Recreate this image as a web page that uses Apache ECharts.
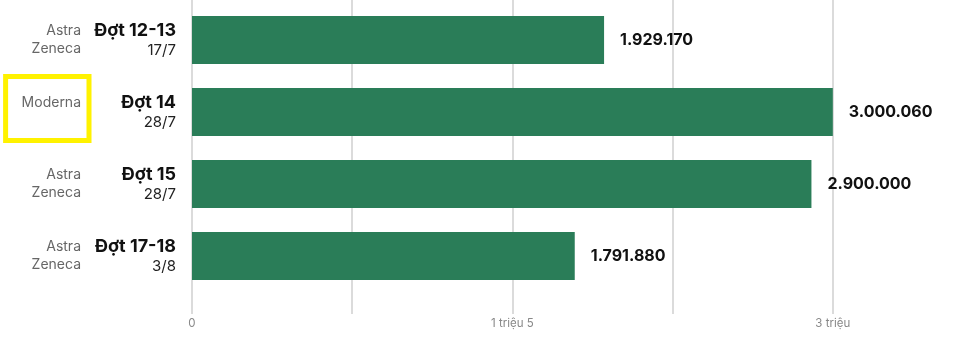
<!DOCTYPE html>
<html><head><meta charset="utf-8">
<script src="https://cdn.jsdelivr.net/npm/echarts@6/dist/echarts.min.js"></script>
<style>html,body{margin:0;padding:0;background:#fff;overflow:hidden;width:958px;height:349px}#c{width:1000px;height:349px}</style>
</head><body><div id="c"></div>
<script>
const batches = ['Đợt 12-13', 'Đợt 14', 'Đợt 15', 'Đợt 17-18'];
const dates = ['17/7', '28/7', '28/7', '3/8'];
const vendors = ['Astra\nZeneca', 'Moderna', 'Astra\nZeneca', 'Astra\nZeneca'];
const highlighted = ['Moderna'];
const doses = [1929170, 3000060, 2900000, 1791880];
const tickValues = [0, 1500000, 3000000];
const tickLabels = ['0', '1 triệu 5', '3 triệu'];

const FONT = 'Inter, "Noto Sans", sans-serif';
const fmt = v => String(v).replace(/\B(?=(\d{3})+(?!\d))/g, '.');
const chart = echarts.init(document.getElementById('c'), null, {renderer: 'canvas'});
const grid = '#cfcfcf';
const xCommon = {
  type: 'value', min: 0, max: 3750000, interval: 750000,
  axisLine: {show: false}
};
chart.setOption({
  animation: false,
  grid: {left: 192, top: 4, width: 801, height: 288, containLabel: false},
  xAxis: [
    Object.assign({}, xCommon, {
      position: 'bottom',
      splitLine: {show: true, lineStyle: {color: grid, width: 1.5}},
      axisTick: {show: true, length: 22, lineStyle: {color: grid, width: 1.5}},
      axisLabel: {
        margin: 26, color: '#888', fontSize: 11.5, fontFamily: FONT,
        formatter: v => { const i = tickValues.indexOf(v); return i >= 0 ? tickLabels[i] : ''; }
      }
    }),
    Object.assign({}, xCommon, {
      position: 'top',
      splitLine: {show: false},
      axisTick: {show: true, length: 4, lineStyle: {color: grid, width: 1.5}},
      axisLabel: {show: false}
    })
  ],
  yAxis: [
    {
      type: 'category', data: batches, inverse: true,
      axisLine: {show: false}, axisTick: {show: false},
      axisLabel: {
        margin: 16, fontFamily: FONT,
        formatter: (v, i) => '{b|' + v + '}\n{d|' + dates[i] + '}',
        rich: {
          b: {fontSize: 18, fontWeight: 'bold', color: '#111', lineHeight: 20, fontFamily: FONT, align: 'right'},
          d: {fontSize: 15, color: '#222', lineHeight: 18, fontFamily: FONT, align: 'right'}
        }
      }
    },
    {
      type: 'category', data: vendors, inverse: true, position: 'left', offset: 94,
      axisLine: {show: false}, axisTick: {show: false},
      axisLabel: {
        margin: 9, fontFamily: FONT,
        formatter: v => highlighted.indexOf(v) >= 0
          ? '{h|' + v + '}\n{e| }'
          : v.split('\n').map(s => '{v|' + s + '}').join('\n'),
        rich: {
          v: {fontSize: 14, color: '#666', lineHeight: 18, fontFamily: FONT, padding: [0, 8, 0, 0], align: 'right'},
          h: {fontSize: 14, color: '#666', lineHeight: 18, fontFamily: FONT,
              padding: [19, 8, 31, 16], borderColor: '#fff200', borderWidth: 5, align: 'right'},
          e: {fontSize: 1, lineHeight: 7, align: 'right'}
        }
      }
    }
  ],
  series: [{
    type: 'bar', data: doses, barWidth: 48, yAxisIndex: 0, xAxisIndex: 0,
    itemStyle: {color: '#2a7d58'},
    label: {
      show: true, position: 'right', distance: 16,
      fontSize: 16, fontWeight: 'bold', color: '#111', fontFamily: FONT,
      formatter: p => fmt(p.value)
    }
  }]
});
</script></body></html>
